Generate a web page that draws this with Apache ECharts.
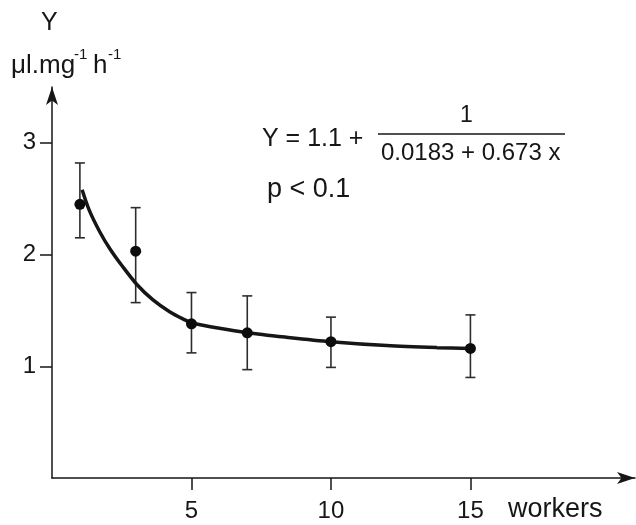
<!DOCTYPE html>
<html>
<head>
<meta charset="utf-8">
<script src="https://cdn.jsdelivr.net/npm/echarts@6/dist/echarts.min.js"></script>
<style>
  html, body { margin: 0; padding: 0; background: #fff; }
  #chart { width: 636px; height: 525px; }
</style>
</head>
<body>
<div id="chart"></div>
<script>
// number of workers per group
const workers = [1, 3, 5, 7, 10, 15]
// mean Y with the ends of the error bars
const meanY = [2.45, 2.03, 1.38, 1.30, 1.22, 1.16]
const upperY = [2.82, 2.42, 1.66, 1.63, 1.44, 1.46]
const lowerY = [2.15, 1.57, 1.12, 0.97, 0.99, 0.90]
// fitted curve
const curveX = [1.08, 1.33, 1.72, 2.08, 2.51, 3.05, 3.62, 4.23, 4.77, 5.0, 6.0, 7.0, 8.4, 10.0, 12.0, 13.8, 15.0]
const curveY = [2.58, 2.40, 2.20, 2.05, 1.90, 1.73, 1.594, 1.486, 1.415, 1.39, 1.34, 1.30, 1.26, 1.22, 1.185, 1.167, 1.16]
// tick labels
const xTicks = [5, 10, 15]
const yTicks = [1, 2, 3]

const font = 'Liberation Sans'
const ink = '#161616'

const chart = echarts.init(document.getElementById('chart'))

chart.setOption({
  animation: false,
  backgroundColor: '#fff',
  grid: { left: 52, right: 1, top: 87, bottom: 47 },
  xAxis: {
    type: 'value',
    min: 0,
    max: 20.9,
    interval: 5,
    splitLine: { show: false },
    axisLine: {
      lineStyle: { color: ink, width: 1.5 },
      symbol: ['none', 'arrow'],
      symbolSize: [9, 18]
    },
    axisTick: { customValues: xTicks, length: 12, lineStyle: { color: ink, width: 1.5 } },
    axisLabel: {
      customValues: xTicks,
      margin: 21,
      fontFamily: font,
      fontSize: 24,
      color: ink
    }
  },
  yAxis: {
    type: 'value',
    min: 0,
    max: 3.5,
    interval: 1,
    splitLine: { show: false },
    axisLine: {
      lineStyle: { color: ink, width: 1.5 },
      symbol: ['none', 'arrow'],
      symbolSize: [9, 18]
    },
    axisTick: { customValues: yTicks, length: 12, lineStyle: { color: ink, width: 1.5 } },
    axisLabel: {
      customValues: yTicks,
      margin: 16,
      fontFamily: font,
      fontSize: 24,
      color: ink
    }
  },
  series: [
    {
      type: 'custom',
      name: 'error',
      data: workers.map((w, i) => [w, upperY[i], lowerY[i]]),
      encode: { x: 0, y: [1, 2] },
      renderItem(params, api) {
        const hi = api.coord([api.value(0), api.value(1)])
        const lo = api.coord([api.value(0), api.value(2)])
        const half = 5
        const style = { stroke: '#2a2f2c', lineWidth: 1.6 }
        return {
          type: 'group',
          children: [
            { type: 'line', shape: { x1: hi[0], y1: hi[1], x2: lo[0], y2: lo[1] }, style },
            { type: 'line', shape: { x1: hi[0] - half, y1: hi[1], x2: hi[0] + half, y2: hi[1] }, style },
            { type: 'line', shape: { x1: lo[0] - half, y1: lo[1], x2: lo[0] + half, y2: lo[1] }, style }
          ]
        }
      },
      z: 2
    },
    {
      type: 'line',
      name: 'fit',
      data: curveX.map((x, i) => [x, curveY[i]]),
      smooth: 0.3,
      showSymbol: false,
      lineStyle: { color: ink, width: 3.5 },
      z: 3
    },
    {
      type: 'scatter',
      name: 'mean',
      data: workers.map((w, i) => [w, meanY[i]]),
      symbolSize: 11,
      itemStyle: { color: '#0c0c0c', opacity: 1 },
      z: 4
    }
  ],
  graphic: [
    { type: 'text', left: 41, top: 11, style: { text: 'Y', font: '25px ' + font, fill: ink } },
    { type: 'text', left: 11, top: 53, style: { text: 'μl.mg', font: '26px ' + font, fill: ink } },
    { type: 'text', left: 74, top: 47, style: { text: '-1', font: '15px ' + font, fill: ink } },
    { type: 'text', left: 93, top: 53, style: { text: 'h', font: '26px ' + font, fill: ink } },
    { type: 'text', left: 108, top: 47, style: { text: '-1', font: '15px ' + font, fill: ink } },
    { type: 'text', left: 262, top: 127, style: { text: 'Y = 1.1 +', font: '25px ' + font, fill: ink } },
    { type: 'text', left: 460, top: 104, style: { text: '1', font: '23px ' + font, fill: ink } },
    { type: 'line', shape: { x1: 378, y1: 134, x2: 565, y2: 134 }, style: { stroke: ink, lineWidth: 1.5 } },
    { type: 'text', left: 381, top: 141, style: { text: '0.0183 + 0.673 x', font: '24px ' + font, fill: ink } },
    { type: 'text', left: 267, top: 176, style: { text: 'p < 0.1', font: '27px ' + font, fill: ink } },
    { type: 'text', left: 508, top: 496, style: { text: 'workers', font: '27px ' + font, fill: ink } }
  ]
})
</script>
</body>
</html>
